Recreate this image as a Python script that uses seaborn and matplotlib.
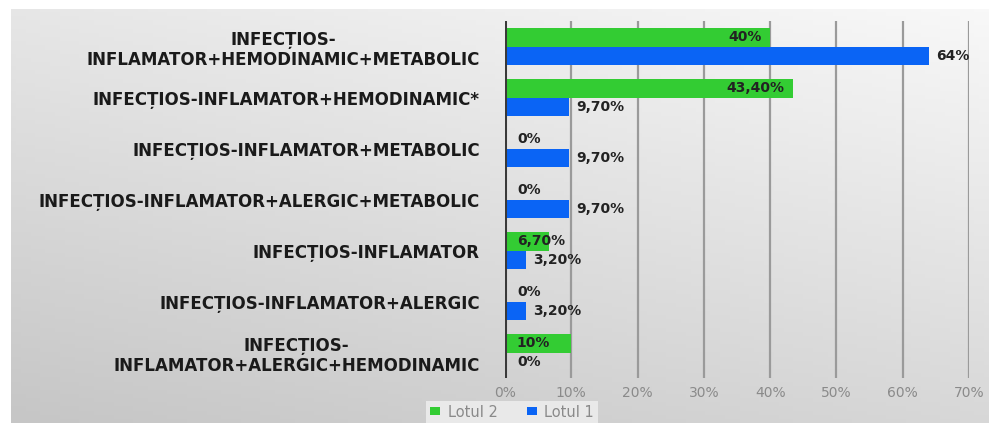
import numpy as np
import pandas as pd
import matplotlib.pyplot as plt
import seaborn as sns

categories = [
    "INFECȚIOS-\nINFLAMATOR+HEMODINAMIC+METABOLIC",
    "INFECȚIOS-INFLAMATOR+HEMODINAMIC*",
    "INFECȚIOS-INFLAMATOR+METABOLIC",
    "INFECȚIOS-INFLAMATOR+ALERGIC+METABOLIC",
    "INFECȚIOS-INFLAMATOR",
    "INFECȚIOS-INFLAMATOR+ALERGIC",
    "INFECȚIOS-\nINFLAMATOR+ALERGIC+HEMODINAMIC",
]
lotul2 = [40, 43.4, 0, 0, 6.7, 0, 10]
lotul1 = [64, 9.7, 9.7, 9.7, 3.2, 3.2, 0]
series = ["Lotul 2", "Lotul 1"]
colors = {"Lotul 2": "#33cc33", "Lotul 1": "#0a64f5"}
xticks = [0, 10, 20, 30, 40, 50, 60, 70]

df = pd.DataFrame({
    "cat": categories * 2,
    "val": lotul2 + lotul1,
    "lot": ["Lotul 2"] * len(categories) + ["Lotul 1"] * len(categories),
})


def fmt(v):
    if float(v).is_integer():
        return "%d%%" % v
    return ("%.2f%%" % v).replace(".", ",")


sns.set_style("white")
fig = plt.figure(figsize=(9.89, 4.23), dpi=100)

# gradient background panel
bg = fig.add_axes([11 / 989, 0, 1 - 11 / 989, 414 / 423])
xx, yy = np.meshgrid(np.linspace(0, 1, 200), np.linspace(0, 1, 100))
grad = 0.35 * xx + 0.65 * yy
bg.imshow(grad, cmap=sns.blend_palette(["#c6c6c6", "#f8f8f8"], as_cmap=True),
          aspect="auto", origin="lower", extent=[0, 1, 0, 1])
bg.axis("off")

ax = fig.add_axes([505 / 989, 45 / 423, 464 / 989, 357 / 423])
ax.set_facecolor("none")
sns.barplot(data=df, y="cat", x="val", hue="lot", hue_order=series,
            palette=colors, saturation=1, width=0.74, orient="h",
            linewidth=0, ax=ax, zorder=3)

ax.set_xlim(0, 70)
ax.set_xticks(xticks)
ax.set_xticklabels(["%d%%" % t for t in xticks], color="#8a8a8a", fontsize=10)
ax.tick_params(axis="x", length=0, pad=6)
ax.tick_params(axis="y", length=0, pad=18)
for lab in ax.get_yticklabels():
    lab.set_fontweight("bold")
    lab.set_fontsize(12)
    lab.set_color("#1a1a1a")
    lab.set_multialignment("center")
ax.set_xlabel("")
ax.set_ylabel("")
ax.grid(axis="x", color="#9a9a9a", lw=1.6, zorder=0)
for s in ax.spines.values():
    s.set_visible(False)
ax.axvline(0, color="#3a3a3a", lw=2.2, zorder=4)

# data labels
for lot, cont in zip(series, ax.containers):
    for bar in cont:
        v = bar.get_width()
        yc = bar.get_y() + bar.get_height() / 2
        if lot == "Lotul 2" and v >= 20:
            x, ha = v - 1.2, "right"
        elif v < 1 or lot == "Lotul 2":
            x, ha = 1.8, "left"
        else:
            x, ha = v + 1.0, "left"
        ax.text(x, yc, fmt(v), ha=ha, va="center", fontsize=10,
                fontweight="bold", color="#222222", zorder=5)

leg = ax.legend(loc="center", bbox_to_anchor=(512 / 989, 11 / 423),
                bbox_transform=fig.transFigure, ncol=2, frameon=True,
                fontsize=10.5, handlelength=0.7, handleheight=0.5,
                columnspacing=2.0, handletextpad=0.5, borderpad=0.25,
                borderaxespad=0)
leg.get_frame().set_facecolor("#e9e9e9")
leg.get_frame().set_edgecolor("none")
leg.get_frame().set_alpha(1)
leg.get_frame().set_boxstyle("square", pad=0)
for t in leg.get_texts():
    t.set_color("#8a8a8a")

fig.savefig("out.png", dpi=100, facecolor="white")
